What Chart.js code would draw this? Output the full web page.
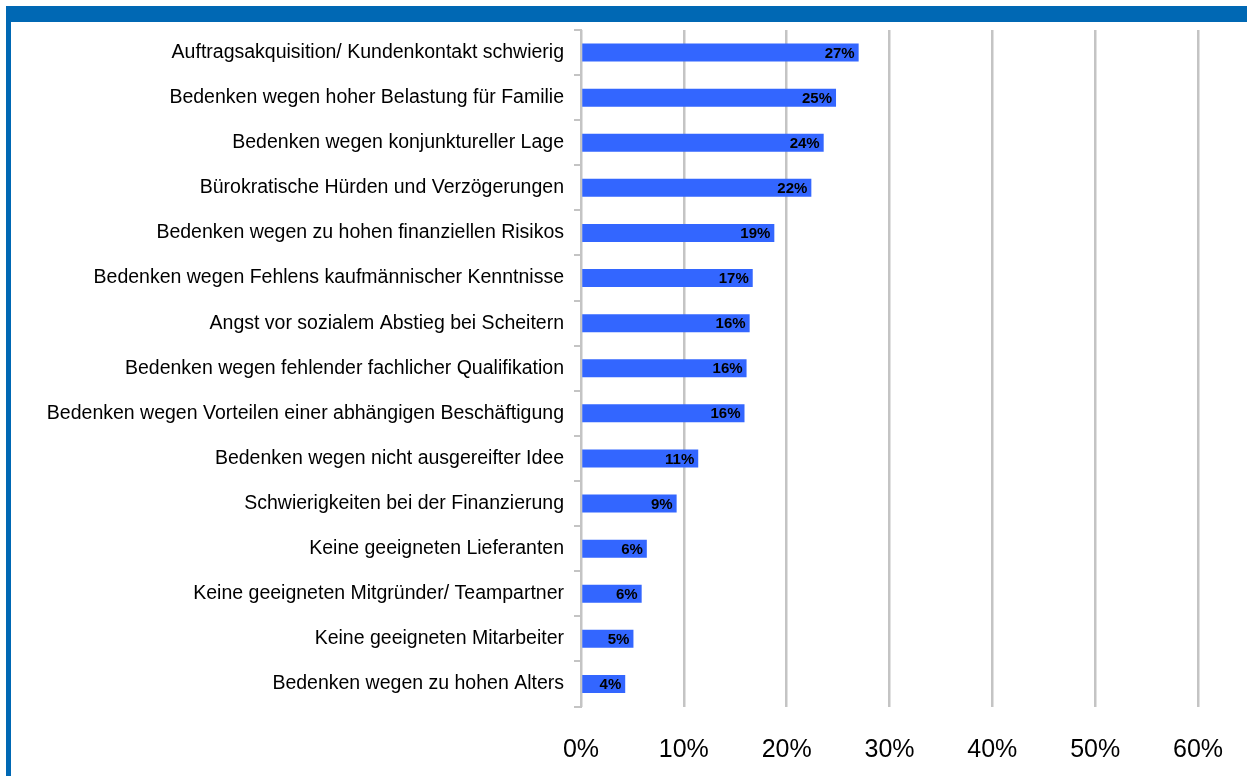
<!DOCTYPE html>
<html>
<head>
<meta charset="utf-8">
<script src="https://cdn.jsdelivr.net/npm/chart.js@4/dist/chart.umd.min.js"></script>
<style>
    body { margin: 0; background: #fff; }
    #rahmen-oben { position: absolute; left: 6px; top: 6px; width: 1241px; height: 16px; background: #0068b4; }
    #rahmen-links { position: absolute; left: 6px; top: 22px; width: 5px; height: 754px; background: #0068b4; }
    #chart { position: absolute; left: 0; top: 0; }
</style>
</head>
<body>
<canvas id="chart" width="1247" height="776"></canvas>
<div id="rahmen-oben"></div>
<div id="rahmen-links"></div>
<script>
// Daten
const kategorien = [
    'Auftragsakquisition/ Kundenkontakt schwierig',
    'Bedenken wegen hoher Belastung für Familie',
    'Bedenken wegen konjunktureller Lage',
    'Bürokratische Hürden und Verzögerungen',
    'Bedenken wegen zu hohen finanziellen Risikos',
    'Bedenken wegen Fehlens kaufmännischer Kenntnisse',
    'Angst vor sozialem Abstieg bei Scheitern',
    'Bedenken wegen fehlender fachlicher Qualifikation',
    'Bedenken wegen Vorteilen einer abhängigen Beschäftigung',
    'Bedenken wegen nicht ausgereifter Idee',
    'Schwierigkeiten bei der Finanzierung',
    'Keine geeigneten Lieferanten',
    'Keine geeigneten Mitgründer/ Teampartner',
    'Keine geeigneten Mitarbeiter',
    'Bedenken wegen zu hohen Alters'
];
const anteile = [27.0, 24.8, 23.6, 22.4, 18.8, 16.7, 16.4, 16.1, 15.9, 11.4, 9.3, 6.4, 5.9, 5.1, 4.3];
const achseMin = 0;
const achseMax = 60;
const achseSchritt = 10;

const schrift = '"Liberation Sans", Arial, sans-serif';

// Werte in die Balken schreiben
const wertBeschriftung = {
    id: 'wertBeschriftung',
    afterDatasetsDraw(chart) {
        const c = chart.ctx;
        c.save();
        c.font = 'bold 15px ' + schrift;
        c.fillStyle = '#000';
        c.textAlign = 'right';
        c.textBaseline = 'middle';
        chart.getDatasetMeta(0).data.forEach((balken, i) => {
            c.fillText(Math.round(anteile[i]) + '%', balken.x - 4, balken.y + 1);
        });
        c.restore();
    }
};

const ctx = document.getElementById('chart').getContext('2d');
const myChart = new Chart(ctx, {
    type: 'bar',
    data: {
        labels: kategorien,
        datasets: [{
            data: anteile,
            backgroundColor: '#3366ff',
            borderWidth: 0,
            barPercentage: 0.4,
            categoryPercentage: 1
        }]
    },
    options: {
        indexAxis: 'y',
        responsive: false,
        animation: false,
        layout: { padding: { top: 30, right: 49, left: 0, bottom: 0 } },
        plugins: {
            legend: { display: false },
            tooltip: { enabled: false }
        },
        scales: {
            x: {
                min: achseMin,
                max: achseMax,
                afterFit: s => { s.height = 69.5; s.paddingLeft = 0; s.paddingRight = 0; },
                border: { display: false },
                grid: { color: '#c4c4c4', lineWidth: 2.5, drawTicks: false },
                ticks: {
                    stepSize: achseSchritt,
                    padding: 29,
                    color: '#000',
                    font: { family: schrift, size: 25 },
                    callback: v => v + '%'
                }
            },
            y: {
                afterFit: s => { s.width = 581; },
                border: { display: true, color: '#c4c4c4', width: 2 },
                grid: { drawOnChartArea: false, drawTicks: true, tickLength: 7, color: '#c4c4c4', lineWidth: 2 },
                ticks: {
                    padding: 10,
                    color: '#000',
                    font: { family: schrift, size: 19.5 }
                }
            }
        }
    },
    plugins: [wertBeschriftung]
});
</script>
</body>
</html>
